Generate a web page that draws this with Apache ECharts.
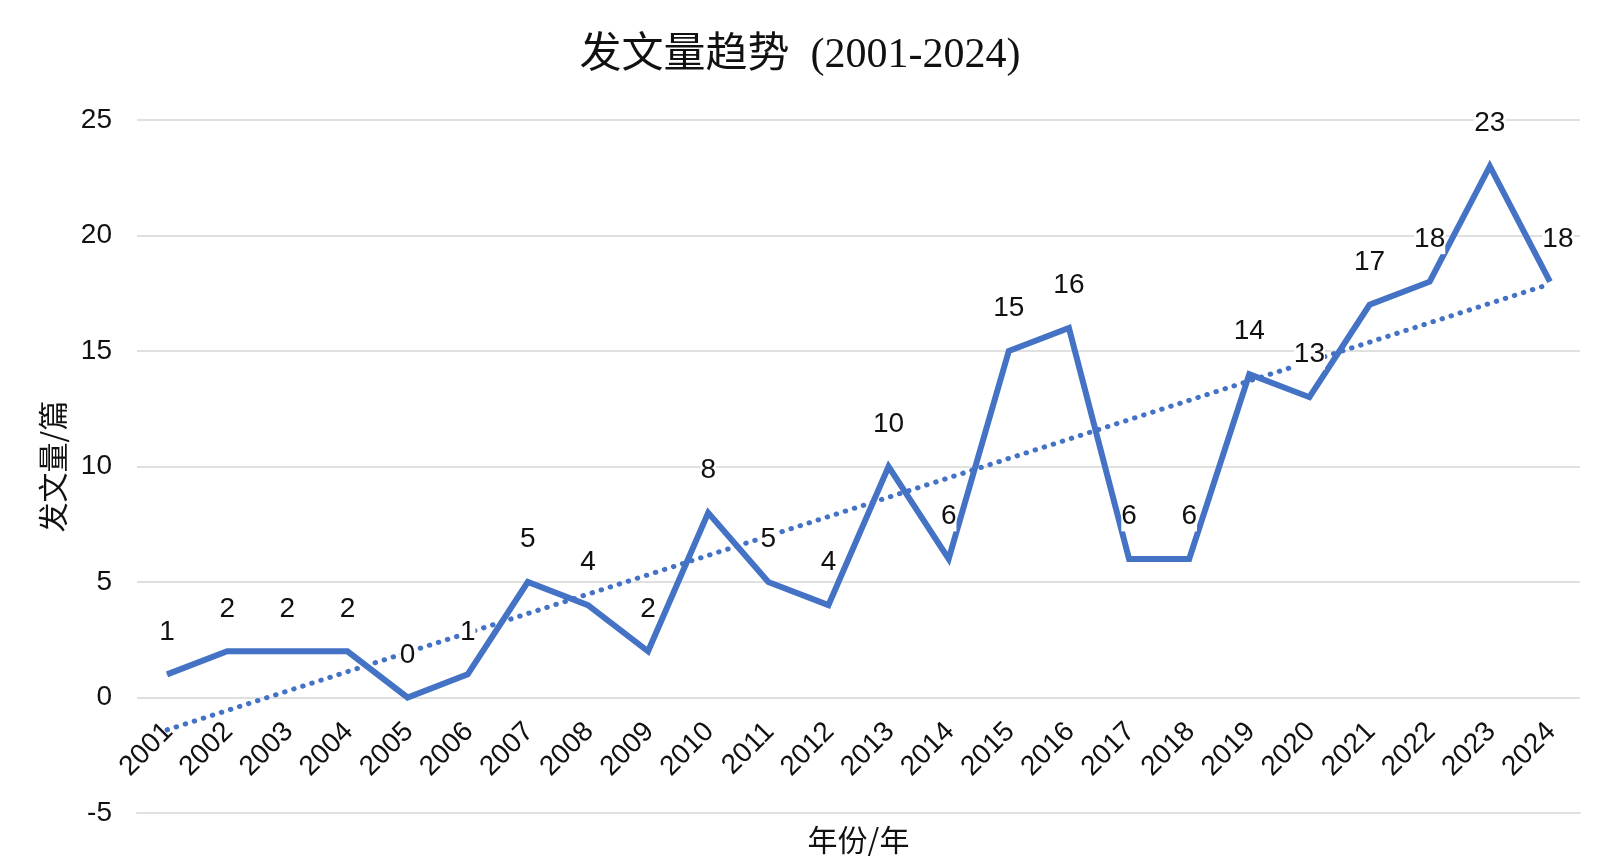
<!DOCTYPE html>
<html>
<head>
<meta charset="utf-8">
<script src="https://cdn.jsdelivr.net/npm/echarts@6/dist/echarts.min.js"></script>
<style>html,body{margin:0;padding:0;background:#fff}#c{width:1600px;height:856px}</style>
</head>
<body>
<div id="c"></div>
<script>
var years = ['2001','2002','2003','2004','2005','2006','2007','2008','2009','2010','2011','2012','2013','2014','2015','2016','2017','2018','2019','2020','2021','2022','2023','2024'];
var counts = [1,2,2,2,0,1,5,4,2,8,5,4,10,6,15,16,6,6,14,13,17,18,23,18];
var trendStart = -1.4;
var trendEnd = 17.9;
var yTicks = {min: -5, max: 25, interval: 5};

var trendData = years.map(function(y, i){
  if (i === 0) return trendStart;
  if (i === years.length - 1) return trendEnd;
  return null;
});
var lineData = counts.map(function(v, i){
  if (i === counts.length - 1) return {value: v, label: {offset: [8, 0]}};
  return v;
});

var chart = echarts.init(document.getElementById('c'));
chart.setOption({
  backgroundColor: '#fff',
  animation: false,
  title: {
    text: '发文量趋势  (2001-2024)',
    left: 'center',
    top: 30,
    textStyle: {fontFamily: '"Liberation Serif", "Noto Sans CJK SC", serif', fontSize: 42, fontWeight: 'normal', color: '#111'}
  },
  grid: {left: 137, right: 20, top: 120, bottom: 43, containLabel: false, outerBoundsMode: 'none'},
  xAxis: {
    type: 'category',
    data: years,
    boundaryGap: true,
    name: '年份/年',
    nameLocation: 'middle',
    nameGap: 12,
    nameTextStyle: {fontFamily: '"Noto Sans CJK SC", sans-serif', fontSize: 30, color: '#111', verticalAlign: 'top'},
    axisLine: {onZero: false, lineStyle: {color: '#e0e0e0', width: 2}},
    axisTick: {show: false},
    axisLabel: {rotate: 45, margin: -104, align: 'right', verticalAlign: 'top', padding: [0, 12, 0, 0], fontSize: 28, color: '#111', fontFamily: '"Liberation Sans", Arial, sans-serif', interval: 0}
  },
  yAxis: {
    type: 'value',
    min: yTicks.min, max: yTicks.max, interval: yTicks.interval,
    name: '发文量/篇',
    nameLocation: 'middle',
    nameGap: 69,
    nameTextStyle: {fontFamily: '"Noto Sans CJK SC", sans-serif', fontSize: 30, color: '#111'},
    axisLine: {show: false},
    axisTick: {show: false},
    axisLabel: {margin: 25, fontSize: 28, color: '#111', fontFamily: '"Liberation Sans", Arial, sans-serif'},
    splitLine: {lineStyle: {color: '#e0e0e0', width: 2}}
  },
  series: [
    {
      type: 'line',
      data: lineData,
      z: 3,
      symbol: 'circle',
      symbolSize: 1,
      itemStyle: {color: '#4472C4'},
      lineStyle: {color: '#4472C4', width: 6, join: 'miter'},
      label: {
        show: true, position: 'top', distance: 27,
        fontSize: 28, color: '#111', fontFamily: '"Liberation Sans", Arial, sans-serif',
        backgroundColor: '#fff', padding: [1, 0]
      }
    },
    {
      type: 'line',
      data: trendData,
      connectNulls: true,
      z: 2,
      symbol: 'none',
      lineStyle: {color: '#4472C4', width: 5, type: [0.5, 9], cap: 'round'}
    }
  ]
});
</script>
</body>
</html>
